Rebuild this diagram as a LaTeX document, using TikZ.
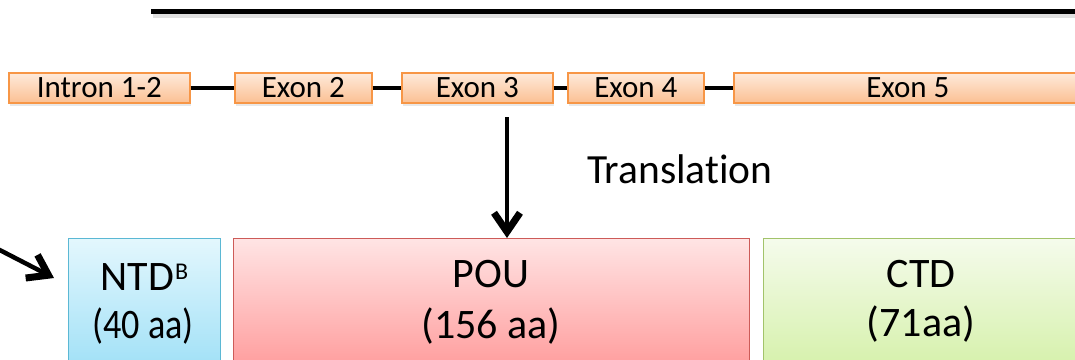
\documentclass[tikz,border=0pt]{standalone}
\usepackage{fontspec}
\setmainfont{Carlito}[Ligatures=NoCommon]
\usetikzlibrary{arrows.meta,shadows}
\definecolor{exborder}{HTML}{F79646}
\definecolor{extop}{HTML}{FEEADB}
\definecolor{exbot}{HTML}{FBC093}
\definecolor{ntdborder}{HTML}{5BB8D4}
\definecolor{ntdtop}{HTML}{E3F7FD}
\definecolor{ntdbot}{HTML}{A2E1F7}
\definecolor{pouborder}{HTML}{CD5B58}
\definecolor{poutop}{HTML}{FFE4E4}
\definecolor{poubot}{HTML}{FF9E9E}
\definecolor{ctdborder}{HTML}{A2C36A}
\definecolor{ctdtop}{HTML}{F5FBEC}
\definecolor{ctdbot}{HTML}{D6F1AC}
\begin{document}
\begin{tikzpicture}[x=1pt,y=-1pt,
  exonbox/.style={draw=exborder, line width=1.6pt, top color=extop, bottom color=exbot,
    minimum height=30pt, inner sep=0pt, text height=19.5pt, text depth=0pt,
    anchor=north west, font=\fontsize{31}{36}\selectfont,
    drop shadow={opacity=0.18, shadow xshift=1.5pt, shadow yshift=-3pt}},
  domainbox/.style={line width=1.4pt, minimum height=127pt, inner sep=0pt, anchor=north west},
  conn/.style={line width=4pt},
  arr/.style={line width=4.5pt, -{Straight Barb[length=19pt,width=26pt,line width=2.5pt 1]}},
  lbl/.style={anchor=base, inner sep=0pt, font=\fontsize{42}{50}\selectfont}
]
\useasboundingbox (0,0) rectangle (1075,359);
\clip (0,0) rectangle (1075,359);

% top line
\draw[line width=5pt, black!20, opacity=0.6] (153,15) -- (1080,15);
\draw[line width=5pt] (151,11.5) -- (1080,11.5);

% exons row
\node[exonbox, minimum width=181pt] (i12) at (8,72) {Intron 1-2};
\node[exonbox, minimum width=137pt] (e2) at (234,72) {Exon 2};
\node[exonbox, minimum width=151pt] (e3) at (401,72) {Exon 3};
\node[exonbox, minimum width=136pt] (e4) at (567,72) {Exon 4};
\node[exonbox, minimum width=348pt] (e5) at (733,72) {Exon 5};

\draw[conn] (i12.east) -- (e2.west);
\draw[conn] (e2.east) -- (e3.west);
\draw[conn] (e3.east) -- (e4.west);
\draw[conn] (e4.east) -- (e5.west);

% domains
\node[domainbox, draw=ntdborder, top color=ntdtop, bottom color=ntdbot, minimum width=152pt] (ntd) at (68,238) {};
\node[domainbox, draw=pouborder, top color=poutop, bottom color=poubot, minimum width=516pt] (pou) at (233,238) {};
\node[domainbox, draw=ctdborder, top color=ctdtop, bottom color=ctdbot, minimum width=318pt] (ctd) at (763,238) {};

\node[lbl] (ntdA) at (144.5,290) {NTD\kern1pt\raisebox{11pt}{\fontsize{24}{24}\selectfont B}};
\node[lbl] (ntdB) at (143,338) {\scalebox{0.86}[1]{(40 aa)}};
\node[lbl] (pouA) at (491,287) {POU};
\node[lbl] (pouB) at (491,338) {(156 aa)};
\node[lbl] (ctdA) at (921,287) {CTD};
\node[lbl] (ctdB) at (921,336) {(71aa)};

% translation arrow
\coordinate (tstart) at (507,117);
\draw[arr] (tstart) -- (tstart |- pou.north);
\node[anchor=base west, inner sep=0pt, font=\fontsize{41.5}{50}\selectfont] (trans) at (587,183) {Translation};

% left arrow
\coordinate (lstart) at (-10,245);
\coordinate (lend) at (54,278);
\draw[arr] (lstart) -- (lend);
\end{tikzpicture}
\end{document}
